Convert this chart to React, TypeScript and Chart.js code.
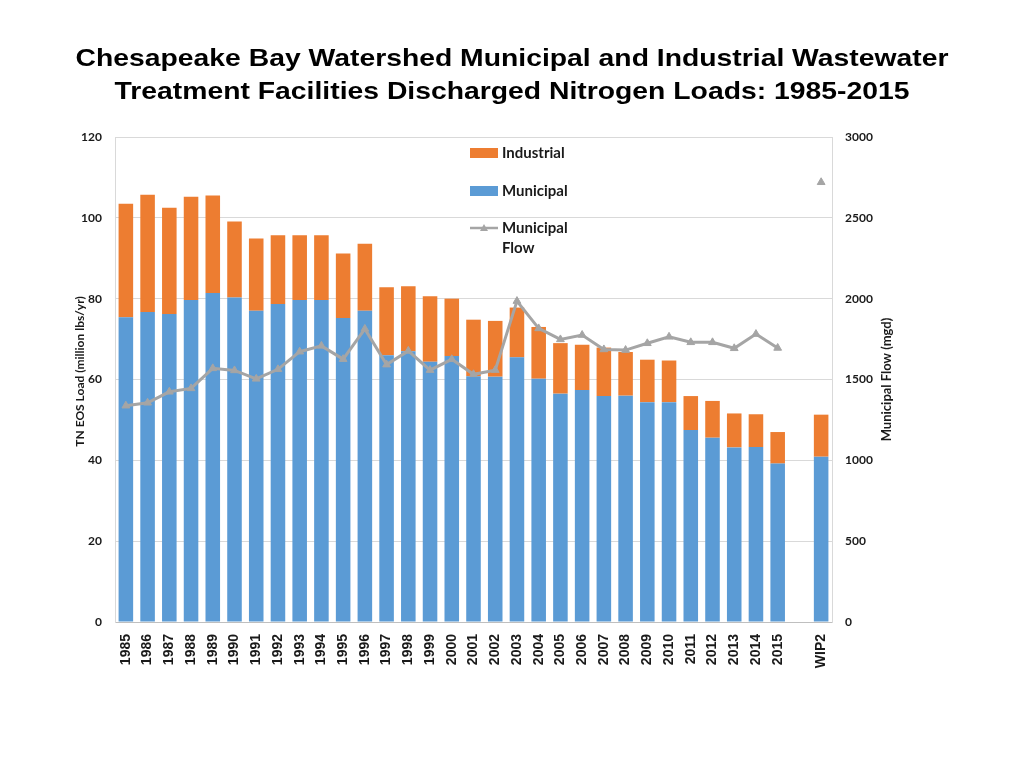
import React, { useEffect, useRef } from "react";
import { Chart, registerables } from "chart.js";

Chart.register(...registerables);

const categories: string[] = [
  "1985", "1986", "1987", "1988", "1989", "1990", "1991", "1992", "1993", "1994",
  "1995", "1996", "1997", "1998", "1999", "2000", "2001", "2002", "2003", "2004",
  "2005", "2006", "2007", "2008", "2009", "2010", "2011", "2012", "2013", "2014",
  "2015", "", "WIP2",
];

const municipal: (number | null)[] = [
  75.4, 76.7, 76.2, 79.7, 81.4, 80.3, 77.0, 78.7, 79.7, 79.7,
  75.2, 77.0, 66.0, 67.0, 64.4, 65.8, 60.8, 60.7, 65.5, 60.2,
  56.5, 57.4, 55.9, 56.0, 54.4, 54.4, 47.5, 45.6, 43.2, 43.3,
  39.2, null, 40.9,
];

const industrial: (number | null)[] = [
  28.1, 29.0, 26.3, 25.5, 24.1, 18.8, 17.9, 17.0, 16.0, 16.0,
  16.0, 16.6, 16.8, 16.1, 16.2, 14.2, 14.0, 13.8, 12.3, 12.8,
  12.5, 11.2, 12.0, 10.8, 10.5, 10.3, 8.4, 9.1, 8.4, 8.1,
  7.8, null, 10.4,
];

const flow: (number | null)[] = [
  1338, 1356, 1424, 1445, 1569, 1556, 1504, 1563, 1672, 1708,
  1626, 1813, 1592, 1677, 1558, 1625, 1532, 1558, 1985, 1816,
  1748, 1775, 1686, 1682, 1724, 1764, 1730, 1730, 1693, 1781,
  1695, null, 2720,
];

const titleLines: string[] = [
  "Chesapeake Bay Watershed Municipal and Industrial Wastewater",
  "Treatment Facilities Discharged Nitrogen Loads: 1985-2015",
];
const leftAxisTitle = "TN EOS Load (million lbs/yr)";
const rightAxisTitle = "Municipal Flow (mgd)";

const ORANGE = "#ED7D31";
const BLUE = "#5B9BD5";
const GRAY = "#A5A5A5";
const TEXT = "#1a1a1a";

const decorPlugin = {
  id: "decor",
  afterDraw(chart: any) {
    const ctx = chart.ctx as CanvasRenderingContext2D;
    const area = chart.chartArea;
    ctx.save();
    // Title (slightly widened to match the reference's proportions)
    ctx.fillStyle = "#000";
    ctx.textAlign = "center";
    ctx.textBaseline = "alphabetic";
    ctx.font = "bold 24px 'Liberation Sans', Arial, sans-serif";
    ctx.save();
    ctx.translate(512, 0);
    ctx.scale(1.18, 1);
    ctx.fillText(titleLines[0], 0, 66);
    ctx.fillText(titleLines[1], 0, 98.5);
    ctx.restore();

    // Axis titles
    ctx.fillStyle = TEXT;
    ctx.font = "bold 12px Lato, 'Open Sans', sans-serif";
    ctx.textBaseline = "middle";
    const midY = (area.top + area.bottom) / 2;
    ctx.save();
    ctx.translate(80, midY - 8);
    ctx.rotate(-Math.PI / 2);
    ctx.fillText(leftAxisTitle, 0, 0);
    ctx.restore();
    ctx.save();
    ctx.font = "bold 13px Lato, 'Open Sans', sans-serif";
    ctx.translate(887, midY);
    ctx.rotate(-Math.PI / 2);
    ctx.fillText(rightAxisTitle, 0, 0);
    ctx.restore();

    // Legend
    const ds = chart.data.datasets;
    ctx.font = "bold 15px Lato, 'Open Sans', sans-serif";
    ctx.textAlign = "left";
    ctx.textBaseline = "middle";
    const lx = 470;
    const tx = 502;
    ctx.fillStyle = ds[1].backgroundColor;
    ctx.fillRect(lx, 148, 28, 10);
    ctx.fillStyle = TEXT;
    ctx.fillText(ds[1].label, tx, 153);
    ctx.fillStyle = ds[0].backgroundColor;
    ctx.fillRect(lx, 186, 28, 10);
    ctx.fillStyle = TEXT;
    ctx.fillText(ds[0].label, tx, 191);
    ctx.strokeStyle = ds[2].borderColor;
    ctx.lineWidth = 2.5;
    ctx.beginPath();
    ctx.moveTo(lx, 228);
    ctx.lineTo(lx + 28, 228);
    ctx.stroke();
    ctx.fillStyle = ds[2].borderColor;
    ctx.beginPath();
    ctx.moveTo(lx + 14, 224);
    ctx.lineTo(lx + 18, 231);
    ctx.lineTo(lx + 10, 231);
    ctx.closePath();
    ctx.fill();
    ctx.fillStyle = TEXT;
    const parts = String(ds[2].label).split(" ");
    ctx.fillText(parts[0], tx, 228);
    ctx.fillText(parts[1], tx, 248);
    ctx.restore();
  },
};

export default function App() {
  const canvasRef = useRef<HTMLCanvasElement | null>(null);

  useEffect(() => {
    const canvas = canvasRef.current;
    if (!canvas) return;
    const chart = new Chart(canvas, {
      type: "bar",
      data: {
        labels: categories,
        datasets: [
          {
            type: "bar",
            label: "Municipal",
            data: municipal,
            backgroundColor: BLUE,
            yAxisID: "y",
            stack: "loads",
            order: 1,
            categoryPercentage: 1,
            barPercentage: 0.67,
          },
          {
            type: "bar",
            label: "Industrial",
            data: industrial,
            backgroundColor: ORANGE,
            yAxisID: "y",
            stack: "loads",
            order: 1,
            categoryPercentage: 1,
            barPercentage: 0.67,
          },
          {
            type: "line",
            label: "Municipal Flow",
            data: flow,
            borderColor: GRAY,
            backgroundColor: GRAY,
            borderWidth: 3,
            pointStyle: "triangle",
            pointRadius: 4.5,
            pointBackgroundColor: GRAY,
            pointBorderColor: GRAY,
            pointBorderWidth: 1,
            tension: 0,
            spanGaps: false,
            yAxisID: "y1",
            order: 0,
          },
        ] as any,
      },
      options: {
        responsive: false,
        animation: false,
        events: [],
        layout: { padding: { top: 137, left: 0, right: 0, bottom: 0 } },
        plugins: {
          legend: { display: false },
          title: { display: false },
          tooltip: { enabled: false },
        },
        scales: {
          x: {
            stacked: true,
            offset: true,
            afterFit: (scale: any) => {
              scale.height = 146;
            },
            grid: { display: false, drawTicks: false },
            border: { display: true, color: "#BFBFBF", width: 1 },
            ticks: {
              autoSkip: false,
              minRotation: 90,
              maxRotation: 90,
              padding: 12,
              color: TEXT,
              font: { family: "'Liberation Sans', Arial, sans-serif", size: 14, weight: "bold" },
            },
          },
          y: {
            position: "left",
            stacked: true,
            min: 0,
            max: 120,
            afterFit: (scale: any) => {
              scale.width = 115;
            },
            grid: { color: "#D9D9D9", lineWidth: 1, drawTicks: false },
            border: { display: true, color: "#D9D9D9", width: 1 },
            ticks: {
              stepSize: 20,
              padding: 13,
              color: TEXT,
              font: { family: "Lato, 'Open Sans', sans-serif", size: 12, weight: "bold" },
            },
          },
          y1: {
            position: "right",
            min: 0,
            max: 3000,
            afterFit: (scale: any) => {
              scale.width = 192;
            },
            grid: { drawOnChartArea: false, drawTicks: false },
            border: { display: true, color: "#D9D9D9", width: 1 },
            ticks: {
              stepSize: 500,
              padding: 13,
              color: TEXT,
              callback: (v: any) => String(v),
              font: { family: "Lato, 'Open Sans', sans-serif", size: 12, weight: "bold" },
            },
          },
        },
      } as any,
      plugins: [decorPlugin],
    });
    return () => chart.destroy();
  }, []);

  return (
    <div style={{ position: "fixed", left: 0, top: 0, width: 1024, height: 768, background: "#fff" }}>
      <canvas ref={canvasRef} width={1024} height={768} style={{ display: "block" }} />
    </div>
  );
}
